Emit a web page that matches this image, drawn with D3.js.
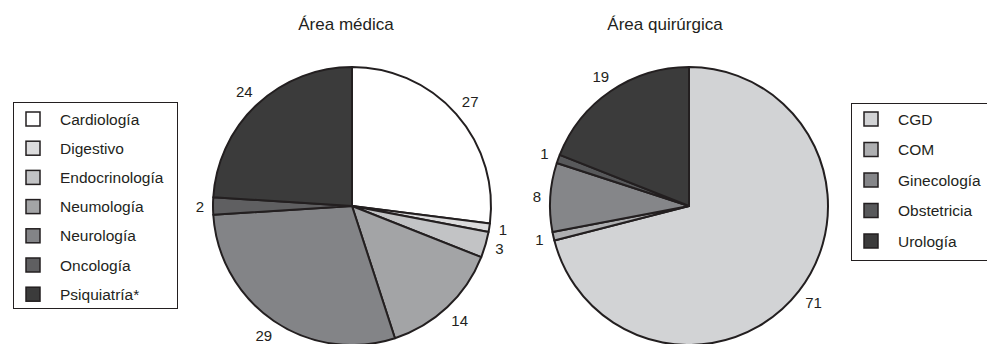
<!DOCTYPE html>
<html>
<head>
<meta charset="utf-8">
<script src="https://cdn.jsdelivr.net/npm/d3@7"></script>
<style>
  html, body { margin: 0; padding: 0; background: #ffffff; }
  svg { display: block; }
  text { font-family: "Liberation Sans", Arial, Helvetica, sans-serif; fill: #231f20; }
</style>
</head>
<body>
<svg id="chart" width="987" height="344"></svg>
<script>
// ---- data ----
const medTitle = "Área médica";
const medCategories = ["Cardiología", "Digestivo", "Endocrinología", "Neumología", "Neurología", "Oncología", "Psiquiatría*"];
const medValues = [27, 1, 3, 14, 29, 2, 24];

const surTitle = "Área quirúrgica";
const surCategories = ["CGD", "COM", "Ginecología", "Obstetricia", "Urología"];
const surValues = [71, 1, 8, 1, 19];

// ---- styles ----
const medPalette = ["#ffffff", "#dcdcdd", "#c2c3c5", "#a3a4a6", "#838487", "#5f5f61", "#3b3b3b"];
const surPalette = ["#d2d3d5", "#aeafb1", "#858689", "#58595b", "#3b3b3b"];
const strokeColor = "#231f20";

const svg = d3.select("#chart");
const R = 139;

function drawPie(cx, cy, titleX, title, cats, vals, palette) {
  const g = svg.append("g").attr("transform", `translate(${cx},${cy})`);
  const pie = d3.pie().sort(null).value(d => d.v).startAngle(0).endAngle(2 * Math.PI);
  const data = pie(cats.map((c, i) => ({ c, v: vals[i], col: palette[i] })));
  const arc = d3.arc().innerRadius(0).outerRadius(R);
  g.selectAll("path.slice").data(data).join("path")
    .attr("class", "slice")
    .attr("d", arc)
    .attr("fill", d => d.data.col)
    .attr("stroke", strokeColor)
    .attr("stroke-width", 2)
    .attr("stroke-linejoin", "round");
  // labels
  g.selectAll("text.lbl").data(data).join("text")
    .attr("class", "lbl")
    .attr("font-size", 15)
    .attr("text-anchor", "middle")
    .attr("dominant-baseline", "central")
    .text(d => d.data.v)
    .each(function(d) {
      const bb = this.getBBox();
      const a = (d.startAngle + d.endAngle) / 2;
      const dx = Math.sin(a), dy = -Math.cos(a);
      const dist = R + 9 + Math.abs(dx) * bb.width / 2 + Math.abs(dy) * 5;
      d3.select(this).attr("x", dx * dist).attr("y", dy * dist);
    });
  svg.append("text")
    .attr("x", titleX).attr("y", 30)
    .attr("text-anchor", "middle")
    .attr("font-size", 17)
    .text(title);
}

function drawLegend(x, y, w, h, rowStart, rowStep, cats, palette) {
  const g = svg.append("g");
  g.append("rect").attr("x", x + 0.5).attr("y", y + 0.5).attr("width", w).attr("height", h)
    .attr("fill", "#ffffff").attr("stroke", "#231f20").attr("stroke-width", 1);
  const ys = d3.scalePoint().domain(cats).range([rowStart, rowStart + rowStep * (cats.length - 1)]);
  const rows = g.selectAll("g.row").data(cats).join("g").attr("class", "row")
    .attr("transform", c => `translate(${x},${ys(c)})`);
  rows.append("rect")
    .attr("x", 13).attr("y", -7).attr("width", 14).attr("height", 14)
    .attr("fill", (c, i) => palette[i])
    .attr("stroke", strokeColor).attr("stroke-width", 1.5);
  rows.append("text")
    .attr("x", 47).attr("y", 0)
    .attr("dominant-baseline", "central")
    .attr("font-size", 15.5)
    .text(c => c);
}

drawPie(352, 206, 346, medTitle, medCategories, medValues, medPalette);
drawPie(689, 206, 665, surTitle, surCategories, surValues, surPalette);
drawLegend(13, 102, 164, 206, 119, 29.2, medCategories, medPalette);
drawLegend(851, 103, 140, 157, 119, 30.5, surCategories, surPalette);
</script>
</body>
</html>
